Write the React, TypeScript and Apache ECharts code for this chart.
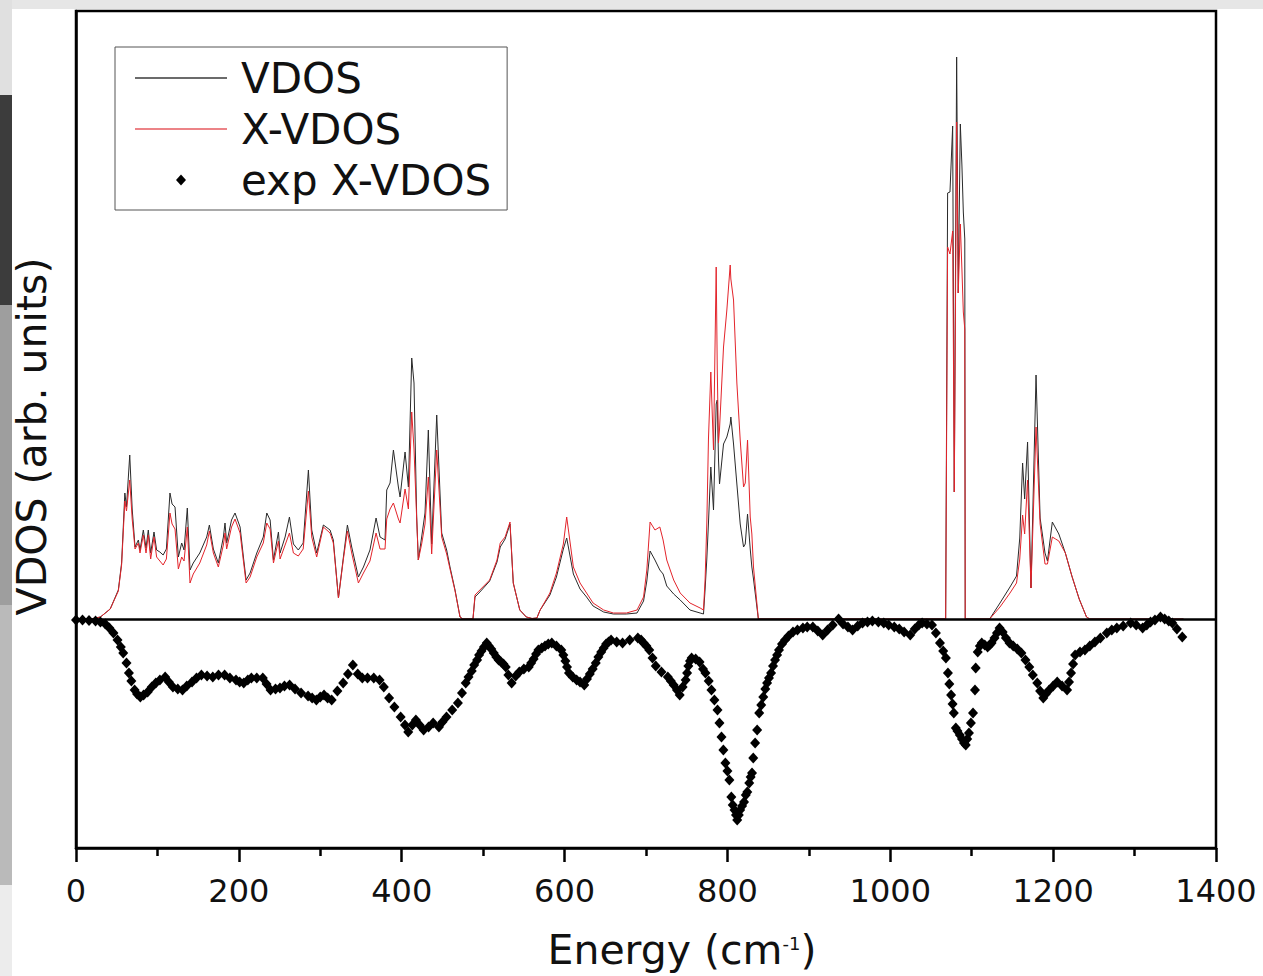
import React, { useEffect, useRef } from "react";
import * as echarts from "echarts";

// Energy grid (cm^-1) shared by the two computed spectra
const energy = [
  0, 15, 21, 30, 42, 52, 56, 60, 62, 66,
  69, 72.5, 76.6, 78.6, 82.7, 86, 88.8, 91.7, 95.8, 99,
  103, 107, 111, 115.4, 118, 121.6, 125.7, 129.8, 132.7, 136.7,
  140, 144, 152, 160.5, 163.8, 168.7, 174.8, 181, 183, 185,
  191, 195.3, 201.5, 205.6, 208.9, 213.8, 222, 230, 234.3, 238.4,
  242.5, 248.6, 250.6, 256.8, 262.1, 267, 273, 279, 285.4, 289.5,
  295.6, 303.8, 312, 316, 322.3, 328.4, 333.3, 338.6, 346.8, 353,
  361, 368.5, 373.4, 379.5, 381.6, 385.7, 389.8, 395.9, 398, 404.1,
  408.2, 412.3, 415.1, 418.4, 420.4, 424.5, 428.6, 432.7, 436.8, 443,
  449.1, 455.2, 459.3, 465.5, 471.6, 475, 487.5, 490, 496, 508,
  517, 521, 527, 533, 537, 545, 553, 560, 566, 570,
  582, 590, 598.5, 602.6, 610.8, 619, 627, 635, 648, 660,
  676, 689, 697, 701, 705, 711, 717, 721, 725.5, 734,
  742, 754, 766.5, 770.6, 772.6, 774.7, 776.7, 779.6, 782.9, 786.2,
  787.5, 789, 790.3, 795.2, 799.3, 803.4, 804.2, 807.5, 811.6, 815.7,
  819.8, 821.9, 824.7, 828, 830, 832, 838, 1068, 1070.4, 1073.3,
  1076.6, 1078.6, 1081.5, 1083.5, 1086, 1088, 1089.7, 1091.5, 1092, 1122,
  1134.7, 1147, 1155, 1159, 1162.5, 1165, 1168.6, 1172.8, 1179, 1184,
  1190, 1193, 1199, 1203, 1207, 1215, 1223, 1232, 1241, 1245,
  1360,
];

const vdos = [
  0, 0, 0.5, 2, 10, 29, 56, 126, 112, 164,
  110, 72, 79, 69, 89, 71, 89, 66, 87, 69,
  67, 64, 70, 126, 115, 112, 62, 76, 69, 111,
  49, 56, 66, 82, 94, 70, 56, 82, 96, 76,
  99, 106, 92, 62, 39, 46, 66, 82, 106, 99,
  59, 87, 66, 82, 102, 75, 69, 76, 149, 89,
  66, 94, 89, 79, 21, 62, 94, 72, 42, 52,
  69, 101, 82, 79, 129, 136, 169, 132, 122, 167,
  132, 261, 236, 102, 59, 82, 106, 189, 75, 204,
  86, 69, 52, 29, 2, 0, 0, 22, 27, 38,
  57, 72, 80, 95, 36, 9, 2, 0.5, 1, 9,
  24, 42, 70, 81, 45, 30, 22, 13, 7, 5,
  5, 6, 18, 38, 68, 59, 49, 45, 33, 25,
  19, 9, 6, 5, 30, 60, 96, 152, 109, 215,
  219, 160, 135, 175, 182, 195, 202, 175, 135, 95,
  72, 75, 105, 70, 52, 40, 0, 0, 426, 427,
  493, 127, 562, 326, 495, 453, 407, 380, 0, 0,
  16, 32, 43, 81, 156, 120, 177, 31, 244, 101,
  66, 58, 97, 91, 85, 66, 43, 20, 2, 0,
  0,
];

const xvdos = [
  0, 0, 0.5, 2, 10, 28, 54, 118, 108, 139,
  100, 70, 76, 66, 84, 66, 84, 60, 82, 62,
  58, 54, 60, 106, 95, 90, 50, 62, 58, 92,
  36, 45, 56, 74, 88, 66, 52, 74, 86, 70,
  92, 100, 86, 58, 36, 42, 62, 76, 96, 90,
  56, 78, 60, 74, 86, 66, 63, 70, 128, 82,
  62, 92, 86, 76, 21, 60, 88, 66, 36, 46,
  58, 86, 70, 70, 100, 110, 116, 100, 96, 130,
  110, 207, 170, 100, 59, 75, 95, 142, 65, 169,
  82, 65, 50, 28, 2, 0, 0, 24, 29, 39,
  59, 76, 82, 97, 36, 9, 2, 0.5, 1, 9,
  26, 46, 75, 102, 52, 36, 26, 16, 9, 6,
  6, 9, 22, 49, 97, 89, 92, 79, 59, 39,
  26, 16, 11, 9, 40, 96, 180, 247, 169, 352,
  250, 176, 190, 272, 309, 354, 340, 319, 236, 179,
  132, 136, 179, 102, 85, 52, 0, 0, 372, 365,
  388, 127, 497, 326, 395, 349, 307, 290, 0, 0,
  12, 26, 36, 60, 104, 85, 139, 31, 192, 95,
  55, 55, 82, 80, 78, 66, 43, 20, 2, 0,
  0,
];

// experimental X-VDOS (plotted downward), [energy, value]
const expPoints: [number, number][] = [
  [0, -1], [8, -1], [16, -1.5], [24, -2], [30, -3], [36, -5], [41, -9], [46, -14], [51, -21], [55, -28],
  [58, -34], [62, -44], [65, -54], [68, -62], [72, -71], [75, -75], [79, -78], [83, -76], [88, -73], [93, -68],
  [98, -64], [103, -61], [109.5, -58], [114, -63], [119, -68], [125, -70], [130.8, -71], [136, -67], [142.5, -63], [148, -59],
  [154, -56], [161, -57], [168, -58], [175, -56], [182.5, -56], [189, -59], [196.5, -61], [201, -63], [206, -64], [211, -61],
  [215.4, -59], [222, -59], [229.4, -59], [234, -65], [238.9, -71], [245, -70], [250.5, -69], [256, -67], [262.3, -66], [269, -70],
  [276.4, -74], [285, -77], [290, -79], [295.2, -81], [300, -78], [304.6, -76], [309, -79], [314, -81], [321, -72], [328.1, -64], [334, -55],
  [340, -46], [346, -55], [351.6, -59], [358, -59], [365.7, -59], [372.8, -61], [378, -68], [384.5, -79], [391, -88], [398.7, -98],
  [404, -106], [408, -113], [413, -106], [417.4, -101], [422, -106], [426.9, -111], [433, -108], [438.6, -104], [445.7, -108], [450, -103],
  [455, -98], [462, -91], [469, -84], [474, -74], [478.6, -64], [482, -58], [486, -52], [489, -46], [492.6, -41], [495, -36], [498, -32], [501, -28], [504.4, -24], [507, -27], [510, -30],
  [513, -34], [516.2, -38], [519, -41], [522, -43], [525, -45], [527.8, -48], [531, -56], [535, -64], [540, -57], [544.4, -53], [550, -50], [556, -48], [559, -44], [562, -40], [565, -35], [567.8, -31],
  [572, -29], [576, -27], [580, -25], [584.3, -24], [590, -27], [596, -31], [598.5, -36], [601, -42], [603, -48], [605.4, -54], [610, -58], [614.8, -61], [619, -63], [624.2, -66],
  [627.5, -60], [631, -55], [634.5, -50], [638.3, -44], [641.5, -38], [645, -33], [648, -29], [651, -25], [654, -23], [657.1, -21], [664, -23], [671.2, -24], [680, -21], [690, -19], [694, -21], [697, -24],
  [700.5, -27], [704, -31], [708, -39], [712, -47], [719, -53], [726.8, -58], [730.5, -62], [734, -66], [738, -71], [741.4, -76], [745, -68], [748.7, -61], [750.5, -54], [752, -47], [754, -42], [756, -39],
  [761, -40], [765.8, -43], [770, -50], [773, -54], [777, -62], [780.4, -71], [784, -81], [787.8, -91], [790.2, -104], [792.7, -118],
  [795, -131], [797.5, -144], [800, -152], [802.4, -161], [804.8, -178], [806.5, -186], [808.7, -191], [810.5, -196], [812, -201], [814, -196],
  [815.6, -191], [818, -187], [820.4, -183], [822.5, -176], [824.4, -173], [826.8, -164], [828.5, -158], [830.2, -154], [831.7, -139], [834, -124],
  [836.5, -111], [839, -94], [841.5, -86], [844, -78], [846.5, -70], [848.7, -64], [851, -59], [853.6, -54], [856, -47], [858.5, -41],
  [861, -36], [863.3, -31], [867, -25], [870.7, -21], [875, -17], [880.5, -13], [886, -11], [892.7, -9], [898, -8], [904.9, -8],
  [911, -12], [917, -16], [923, -11], [929.3, -6], [936.5, 0], [942, -5], [948, -8], [953.7, -11], [960, -7], [965.9, -4],
  [972, -3], [978, -2], [985.4, -3], [992, -4], [998, -6], [1004.9, -8], [1011, -10], [1017, -13], [1024.5, -16], [1030, -10],
  [1035, -6], [1039.1, -4], [1045, -5], [1051.2, -6], [1056, -14], [1061, -24], [1065, -32], [1068.3, -39], [1070.8, -54], [1072.5, -65],
  [1074.7, -76], [1076.5, -85], [1078, -94], [1080.5, -109], [1082.5, -112], [1085.4, -116], [1088, -120], [1090.5, -124], [1092.7, -126], [1094.5, -120],
  [1096.6, -114], [1099, -104], [1101.6, -94], [1104, -71], [1104.9, -49], [1107.4, -33], [1110, -27], [1112.3, -24], [1116, -26], [1119.5, -28],
  [1122, -26], [1124.4, -24], [1128, -19], [1131, -14], [1134.2, -9], [1138, -13], [1142, -19], [1146.4, -24], [1151, -27], [1156, -30],
  [1161, -34], [1166, -41], [1170.7, -48], [1175, -56], [1180.5, -64], [1184, -72], [1187.9, -79], [1191, -75], [1195.1, -71], [1200, -67],
  [1205, -63], [1211, -67], [1217.1, -71], [1219.5, -63], [1222, -54], [1224.5, -45], [1227, -36], [1233, -33], [1239, -31], [1245, -27],
  [1251.3, -23], [1258, -19], [1265.9, -14], [1272, -11], [1278.2, -9], [1286, -7], [1295.2, -4], [1302, -6], [1309.9, -9], [1315, -6],
  [1319.6, -3], [1325, -1], [1331.8, 2], [1337, 0], [1342, -2], [1346.4, -4], [1352, -10], [1358.6, -18],
];

const xMin = 0;
const xMax = 1400;
const xInterval = 200;
const yMin = -229;
const yMax = 608;

const FONT = "'DejaVu Sans', Verdana, sans-serif";
const LINE_ICON = "path://M0,0H92V1.3H0Z";
const DIAMOND_ICON = "path://M5,0L10,5.5L5,11L0,5.5Z";

export default function App() {
  const ref = useRef<HTMLDivElement>(null);

  useEffect(() => {
    if (!ref.current) return;
    const chart = echarts.init(ref.current, undefined, { renderer: "svg" });
    const vdosData = energy.map((e, i) => [e, vdos[i]]);
    const xvdosData = energy.map((e, i) => [e, xvdos[i]]);

    chart.setOption({
      animation: false,
      backgroundColor: "#ffffff",
      textStyle: { fontFamily: FONT },
      graphic: [
        { type: "rect", left: 0, top: 0, shape: { width: 1263, height: 9 }, style: { fill: "#e6e6e6" }, silent: true },
        { type: "rect", left: 0, top: 0, shape: { width: 12, height: 95 }, style: { fill: "#e0e0e0" }, silent: true },
        { type: "rect", left: 0, top: 95, shape: { width: 12, height: 210 }, style: { fill: "#3c3c3c" }, silent: true },
        { type: "rect", left: 0, top: 305, shape: { width: 12, height: 300 }, style: { fill: "#9e9e9e" }, silent: true },
        { type: "rect", left: 0, top: 605, shape: { width: 12, height: 280 }, style: { fill: "#bababa" }, silent: true },
        { type: "rect", left: 0, top: 885, shape: { width: 12, height: 91 }, style: { fill: "#ececec" }, silent: true },
      ],
      grid: {
        left: 76,
        right: 47,
        top: 11,
        bottom: 128,
        containLabel: false,
        outerBoundsMode: "none",
        show: true,
        borderColor: "#000",
        borderWidth: 2.5,
        backgroundColor: "#fff",
      },
      legend: {
        orient: "vertical",
        left: 115,
        top: 47,
        padding: [8, 16, 7, 20],
        borderColor: "#555",
        borderWidth: 1,
        itemWidth: 92,
        itemHeight: 11,
        itemGap: 5,
        symbolKeepAspect: true,
        textStyle: {
          fontFamily: FONT,
          fontSize: 42,
          lineHeight: 46,
          color: "#111",
          padding: [0, 0, 0, 9],
        },
        data: [
          { name: "VDOS", icon: LINE_ICON },
          { name: "X-VDOS", icon: LINE_ICON },
          { name: "exp X-VDOS", icon: DIAMOND_ICON },
        ],
      },
      xAxis: {
        type: "value",
        min: xMin,
        max: xMax,
        interval: xInterval,
        name: "Energy (cm{sup|-1})",
        nameLocation: "middle",
        nameGap: 80,
        nameTextStyle: {
          fontFamily: FONT,
          fontSize: 41,
          lineHeight: 44,
          color: "#111",
          padding: [0, 0, 0, 72],
          rich: {
            sup: {
              fontFamily: FONT,
              fontSize: 18,
              lineHeight: 18,
              verticalAlign: "top",
              padding: [6, 0, 0, 0],
              color: "#111",
            },
          },
        },
        axisLine: { show: true, onZero: false, lineStyle: { color: "#000", width: 2.5 } },
        axisTick: { show: true, inside: false, length: 14, lineStyle: { color: "#000", width: 2.5 } },
        minorTick: { show: true, splitNumber: 2, length: 8, lineStyle: { color: "#000", width: 2.5 } },
        axisLabel: {
          fontFamily: FONT,
          fontSize: 32,
          color: "#111",
          margin: 27,
          formatter: (v: number) => String(v),
        },
        splitLine: { show: false },
      },
      yAxis: {
        type: "value",
        min: yMin,
        max: yMax,
        name: "VDOS (arb. units)",
        nameLocation: "middle",
        nameRotate: 90,
        nameGap: 24,
        nameTextStyle: { fontFamily: FONT, fontSize: 41, color: "#111", padding: [0, 14, 0, 0] },
        axisLine: { show: true, onZero: false, lineStyle: { color: "#000", width: 2.5 } },
        axisTick: { show: false },
        axisLabel: { show: false },
        splitLine: { show: false },
      },
      series: [
        {
          name: "VDOS",
          type: "line",
          data: vdosData,
          symbol: "none",
          lineStyle: { color: "#2a2a2a", width: 1 },
          itemStyle: { color: "#3a3a3a" },
          z: 2,
        },
        {
          name: "X-VDOS",
          type: "line",
          data: xvdosData,
          symbol: "none",
          lineStyle: { color: "#e3242b", width: 1 },
          itemStyle: { color: "#e65a5f" },
          z: 3,
        },
        {
          name: "exp X-VDOS",
          type: "scatter",
          data: expPoints,
          symbol: "diamond",
          symbolSize: [10, 11],
          itemStyle: { color: "#000", opacity: 1 },
          z: 4,
          markLine: {
            silent: true,
            symbol: "none",
            label: { show: false },
            lineStyle: { color: "#000", width: 2.5, type: "solid" },
            data: [{ yAxis: 0 }],
          },
        },
      ],
    });
    return () => chart.dispose();
  }, []);

  return (
    <div
      ref={ref}
      style={{ position: "fixed", left: 0, top: 0, width: 1263, height: 976 }}
    />
  );
}
